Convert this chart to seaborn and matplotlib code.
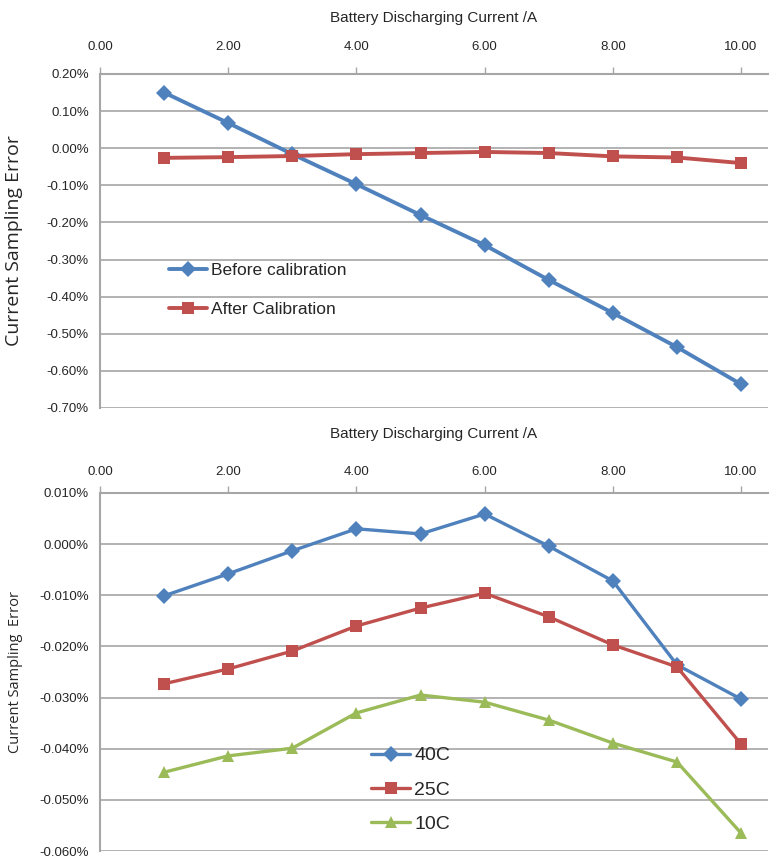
import numpy as np
import pandas as pd
import matplotlib
matplotlib.use("Agg")
import matplotlib.pyplot as plt
import seaborn as sns
from matplotlib.ticker import FuncFormatter, MultipleLocator

# Data
current = [1, 2, 3, 4, 5, 6, 7, 8, 9, 10]

before_cal = [0.150, 0.068, -0.016, -0.097, -0.180, -0.261, -0.355, -0.444, -0.536, -0.636]
after_cal = [-0.026, -0.024, -0.021, -0.016, -0.013, -0.010, -0.013, -0.022, -0.025, -0.040]

err_40c = [-0.0101, -0.0058, -0.0013, 0.0030, 0.0020, 0.0059, -0.0004, -0.0072, -0.0236, -0.0303]
err_25c = [-0.0273, -0.0244, -0.0209, -0.0160, -0.0125, -0.0096, -0.0142, -0.0197, -0.0240, -0.0391]
err_10c = [-0.0446, -0.0414, -0.0399, -0.0330, -0.0295, -0.0309, -0.0344, -0.0389, -0.0426, -0.0565]

x_ticks = [0, 2, 4, 6, 8, 10]

blue = "#4F81BD"
red = "#C0504D"
green = "#9BBB59"
grid_col = "#A6A6A6"

sns.set_theme(style="white")
plt.rcParams["font.family"] = ["Liberation Sans", "DejaVu Sans"]

fig = plt.figure(figsize=(7.77, 8.57), dpi=100)
W, H = 777, 857
ax1 = fig.add_axes([100 / W, (H - 408) / H, 668 / W, 334 / H])
ax2 = fig.add_axes([100 / W, (H - 851) / H, 668 / W, 358 / H])


def style_axis(ax, ymin, ymax, step, fmt):
    ax.set_xlim(0, 10.42)
    ax.set_ylim(ymin, ymax)
    ax.xaxis.set_ticks_position("top")
    ax.xaxis.set_label_position("top")
    ax.set_xticks(x_ticks)
    ax.xaxis.set_major_formatter(FuncFormatter(lambda v, p: f"{v:.2f}"))
    ax.yaxis.set_major_locator(MultipleLocator(step))
    ax.yaxis.set_major_formatter(FuncFormatter(fmt))
    ax.grid(axis="y", color=grid_col, linewidth=1.2)
    ax.grid(axis="x", visible=False)
    for s in ["right", "bottom"]:
        ax.spines[s].set_visible(False)
    for s in ["left", "top"]:
        ax.spines[s].set_color(grid_col)
        ax.spines[s].set_linewidth(1.5)
    ax.tick_params(axis="x", which="major", direction="out", length=5, color=grid_col,
                   width=1, labelsize=9.5, pad=6)
    ax.tick_params(axis="y", which="major", direction="out", length=5, color=grid_col,
                   width=1, labelsize=9.5, pad=3)


# Top chart
df_top = pd.DataFrame({
    "current": current * 2,
    "error": before_cal + after_cal,
    "series": ["Before calibration"] * 10 + ["After Calibration"] * 10,
})
sns.lineplot(data=df_top, x="current", y="error", hue="series", style="series",
             palette=[blue, red], markers=["D", "s"], dashes=False,
             linewidth=2.8, markersize=8, markeredgewidth=0, ax=ax1)
style_axis(ax1, -0.70, 0.20, 0.10, lambda v, p: f"{v:.2f}%")
ax1.tick_params(axis="x", pad=10)
ax1.set_xlabel("Battery Discharging Current /A", fontsize=11, labelpad=14)
ax1.set_ylabel("Current Sampling Error", fontsize=14,
               family=["Open Sans", "DejaVu Sans"])
ax1.yaxis.set_label_coords(-0.115, 0.5)
leg1 = ax1.legend(loc="upper left", bbox_to_anchor=(0.08, 0.48), frameon=False,
                  fontsize=12.5, handlelength=2.2, handletextpad=0.2, labelspacing=1.35)

# Bottom chart
df_bot = pd.DataFrame({
    "current": current * 3,
    "error": err_40c + err_25c + err_10c,
    "series": ["40C"] * 10 + ["25C"] * 10 + ["10C"] * 10,
})
sns.lineplot(data=df_bot, x="current", y="error", hue="series", style="series",
             palette=[blue, red, green], markers=["D", "s", "^"], dashes=False,
             linewidth=2.4, markersize=8, markeredgewidth=0, ax=ax2)
style_axis(ax2, -0.060, 0.010, 0.010, lambda v, p: f"{v:.3f}%")
ax2.set_xlabel("Battery Discharging Current /A", fontsize=11, labelpad=20)
ax2.set_ylabel("Current Sampling  Error", fontsize=10.5,
               family=["Open Sans", "DejaVu Sans"])
ax2.yaxis.set_label_coords(-0.115, 0.5)
leg2 = ax2.legend(loc="upper left", bbox_to_anchor=(0.38, 0.34), frameon=False,
                  fontsize=14, handlelength=2.0, handletextpad=0.2, labelspacing=0.85)

fig.savefig("out.png", dpi=100)
